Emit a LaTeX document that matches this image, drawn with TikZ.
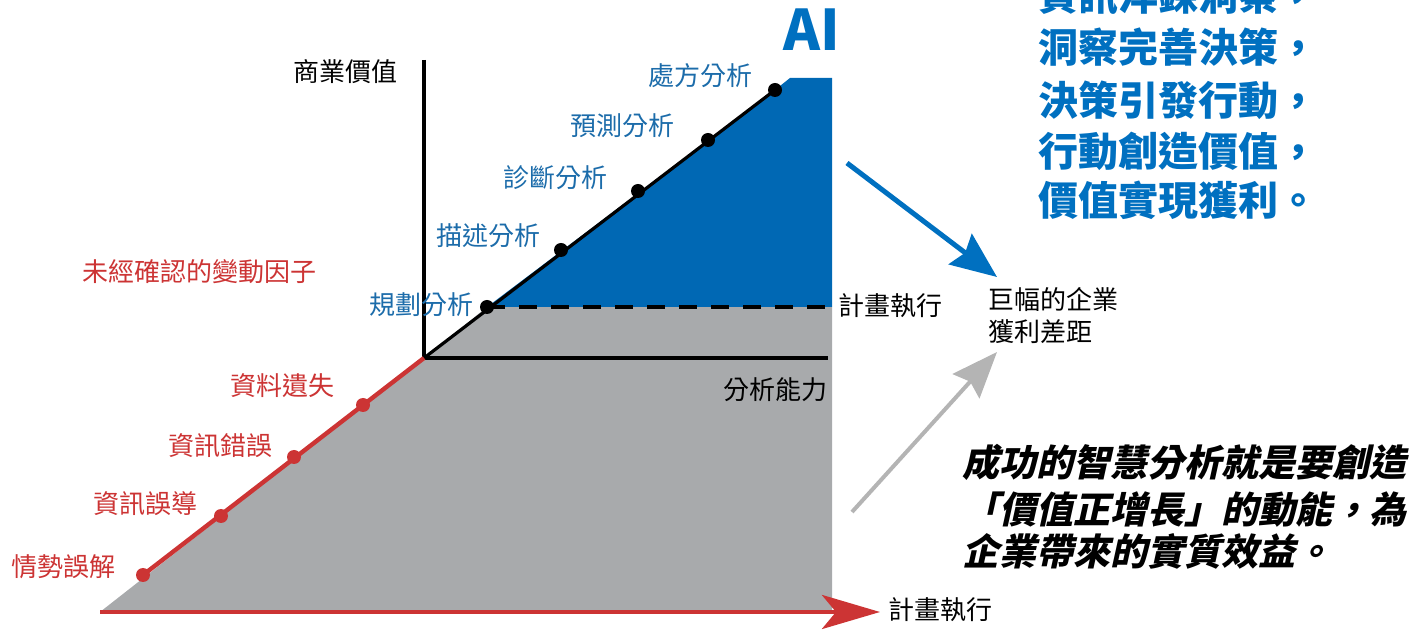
\documentclass[tikz,border=0pt]{standalone}
\usepackage{fontspec}
\usetikzlibrary{arrows.meta}
\setmainfont{Noto Sans CJK TC}
\newfontfamily\cjkslant{Noto Sans CJK TC}[FakeSlant=0.22]

\definecolor{barblue}{RGB}{0,104,180}
\definecolor{labblue}{RGB}{28,108,170}
\definecolor{labred}{RGB}{204,52,52}
\definecolor{gapgray}{RGB}{168,170,172}
\definecolor{textblue}{RGB}{0,112,192}
\definecolor{arrowgray}{RGB}{180,180,180}

\tikzset{
	lab/.style={font=\fontsize{13}{16}\selectfont, inner sep=0pt},
	bluelab/.style={lab, text=labblue},
	redlab/.style={lab, text=labred},
	bigblue/.style={font=\fontsize{20}{24}\selectfont\bfseries, text=textblue, inner sep=0pt, anchor=west},
	slanttext/.style={font=\fontsize{18.5}{22}\cjkslant\bfseries, inner sep=0pt, anchor=west},
	bdot/.style={circle, fill=black, inner sep=0pt, minimum size=7pt},
	rdot/.style={circle, fill=labred, inner sep=0pt, minimum size=7pt},
	axis/.style={line width=1.6pt},
}

\begin{document}
\begin{tikzpicture}[x=0.5pt, y=-0.5pt]
	\useasboundingbox (0,0) rectangle (1415,630);

	\coordinate (o) at (424,358);
	\foreach \i/\x/\y in {1/487/307, 2/561/250, 3/638/191, 4/708/140, 5/775/90}
		\coordinate (p\i) at (\x,\y);
	\foreach \i/\x/\y in {1/143/575, 2/221/516, 3/294/457, 4/363/405}
		\coordinate (q\i) at (\x,\y);

	% gray and blue areas
	\fill[gapgray] (100,612) -- (o) -- (p1) -- (832,307) -- (832,612) -- cycle;
	\fill[barblue] (p1) -- (p5) -- (790,78) -- (832,78) -- (832,307) -- cycle;
	\draw[line width=2pt, dash pattern=on 9pt off 7pt] (p1) -- (832,307);

	% axes
	\draw[axis] (424,60) -- (o) -- (828,358);
	\draw[axis] (o) -- (p5);
	\draw[line width=2.2pt, labred] (o) -- (q1);
	\draw[line width=2.2pt, labred, -{Stealth[length=29pt, width=17pt, inset=7pt]}] (100,612) -- (880,612);

	\foreach \i in {1,...,5} \node[bdot] (d\i) at (p\i) {};
	\foreach \i in {1,...,4} \node[rdot] (r\i) at (q\i) {};

	% labels
	\node[lab] (value) at (345,72) {商業價值};
	\node[lab] (ability) at (775,390) {分析能力};
	\node[lab] (plan) at (890,306) {計畫執行};
	\node[lab] (exec) at (940,610) {計畫執行};
	\node[lab, align=left, anchor=west] (gap) at (988,316) {巨幅的企業\\獲利差距};

	\node[bluelab] (s1) at (421,305) {規劃分析};
	\node[bluelab] (s2) at (488,236) {描述分析};
	\node[bluelab] (s3) at (555,178) {診斷分析};
	\node[bluelab] (s4) at (622,126) {預測分析};
	\node[bluelab] (s5) at (700,76) {處方分析};

	\node[redlab] (f0) at (200,272) {未經確認的變動因子};
	\node[redlab] (f1) at (282,386) {資料遺失};
	\node[redlab] (f2) at (220,446) {資訊錯誤};
	\node[redlab] (f3) at (145,504) {資訊誤導};
	\node[redlab] (f4) at (63,567) {情勢誤解};

	\node[font=\fontsize{28}{30}\selectfont\bfseries, text=textblue, inner sep=0pt] (ai) at (812,30) {AI};

	\foreach \t/\y [count=\i] in {資訊淬鍊洞察，/-4, 洞察完善決策，/47, 決策引發行動，/100, 行動創造價值，/151, 價值實現獲利。/200}
		\node[bigblue] (goal\i) at (1038,\y) {\t};

	\node[slanttext] (note1) at (962,462) {成功的智慧分析就是要創造};
	\node[slanttext] (note2) at (962,510) {「價值正增長」的動能，為};
	\node[slanttext] (note3) at (962,551) {企業帶來的實質效益。};

	% gap arrows
	\coordinate (bluestart) at (847,163);
	\coordinate (bluetip) at (997,277);
	\coordinate (graystart) at (852,512);
	\coordinate (graytip) at (997,352);
	\draw[line width=2.5pt, textblue, -{Stealth[length=23pt, width=19pt, inset=3pt]}] (bluestart) -- (bluetip);
	\draw[line width=2pt, arrowgray, -{Stealth[length=23pt, width=18pt, inset=3pt]}] (graystart) -- (graytip);
\end{tikzpicture}
\end{document}
